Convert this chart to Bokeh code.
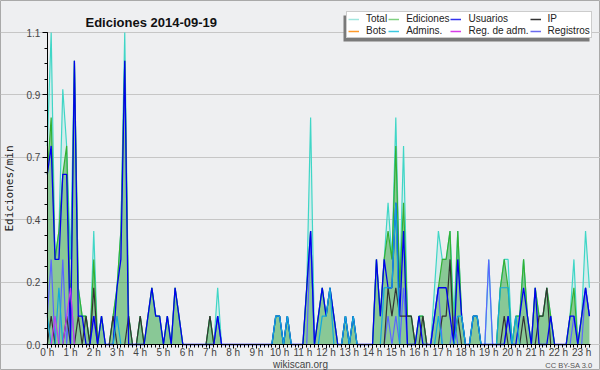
from bokeh.plotting import figure
from bokeh.models import (ColumnDataSource, FixedTicker, Legend, LegendItem, Label,
                          BoxAnnotation, Range1d)
from bokeh.embed import file_html
from bokeh.resources import INLINE

# ---------------- data: edits per 10-minute bin, 2014-09-19 ----------------
minutes = list(range(0, 1410, 10))          # bin start, minutes after 0 h

total_10 = [
    7, 11, 3, 4, 9, 7, 3, 10, 2, 1, 1, 0,
    4, 0, 1, 0, 0, 1, 2, 4, 11, 1, 0, 0,
    1, 0, 1, 2, 1, 1, 0, 1, 0, 2, 1, 0,
    0, 0, 0, 0, 0, 0, 1, 0, 2, 0, 0, 0,
    0, 0, 0, 0, 0, 0, 0, 0, 0, 0, 0, 1,
    1, 0, 1, 0, 0, 0, 0, 2, 8, 0, 1, 2,
    1, 2, 1, 0, 0, 1, 0, 1, 0, 0, 0, 0,
    0, 3, 1, 3, 5, 3, 8, 2, 7, 1, 1, 0,
    1, 1, 0, 0, 2, 4, 3, 3, 4, 1, 4, 1,
    0, 0, 1, 1, 0, 0, 3, 0, 0, 2, 3, 3,
    0, 1, 1, 3, 1, 0, 2, 1, 1, 2, 1, 0,
    0, 0, 0, 1, 3, 0, 1, 4, 2,
]
ediciones_10 = [
    6, 8, 3, 4, 6, 7, 1, 10, 2, 1, 1, 0,
    3, 0, 1, 0, 0, 1, 2, 4, 10, 1, 0, 0,
    1, 0, 1, 2, 1, 1, 0, 1, 0, 2, 1, 0,
    0, 0, 0, 0, 0, 0, 1, 0, 1, 0, 0, 0,
    0, 0, 0, 0, 0, 0, 0, 0, 0, 0, 0, 1,
    1, 0, 1, 0, 0, 0, 0, 2, 4, 0, 1, 2,
    1, 2, 1, 0, 0, 1, 0, 1, 0, 0, 0, 0,
    0, 3, 1, 3, 4, 3, 7, 2, 5, 1, 1, 0,
    1, 1, 0, 0, 1, 2, 3, 3, 4, 0, 4, 1,
    0, 0, 1, 1, 0, 0, 0, 0, 0, 2, 3, 2,
    0, 1, 1, 3, 1, 0, 2, 1, 1, 2, 1, 0,
    0, 0, 0, 1, 2, 0, 1, 2, 1,
]
usuarios_10 = [
    6, 7, 3, 3, 6, 6, 0, 10, 1, 1, 0, 0,
    1, 0, 1, 0, 0, 0, 2, 3, 10, 0, 0, 0,
    0, 0, 1, 2, 1, 1, 0, 1, 0, 2, 1, 0,
    0, 0, 0, 0, 0, 0, 0, 0, 1, 0, 0, 0,
    0, 0, 0, 0, 0, 0, 0, 0, 0, 0, 0, 1,
    1, 0, 1, 0, 0, 0, 0, 2, 4, 0, 1, 2,
    1, 2, 1, 0, 0, 1, 0, 1, 0, 0, 0, 0,
    0, 3, 1, 3, 2, 2, 5, 1, 4, 0, 0, 0,
    1, 0, 0, 0, 1, 2, 2, 2, 1, 0, 3, 1,
    0, 0, 1, 1, 0, 0, 0, 0, 0, 0, 0, 1,
    0, 0, 1, 2, 1, 0, 2, 0, 0, 0, 1, 0,
    0, 0, 0, 1, 1, 0, 1, 2, 1,
]
ip_10 = [
    0, 1, 0, 0, 0, 1, 0, 0, 1, 0, 1, 0,
    2, 0, 0, 0, 0, 1, 0, 0, 0, 1, 0, 0,
    1, 0, 0, 0, 0, 0, 0, 0, 0, 0, 0, 0,
    0, 0, 0, 0, 0, 0, 1, 0, 0, 0, 0, 0,
    0, 0, 0, 0, 0, 0, 0, 0, 0, 0, 0, 0,
    0, 0, 0, 0, 0, 0, 0, 0, 0, 0, 0, 0,
    0, 0, 0, 0, 0, 0, 0, 0, 0, 0, 0, 0,
    0, 0, 0, 0, 2, 1, 2, 1, 1, 1, 1, 0,
    0, 1, 0, 0, 0, 0, 1, 1, 3, 0, 1, 0,
    0, 0, 0, 0, 0, 0, 0, 0, 0, 0, 1, 0,
    0, 0, 0, 1, 0, 0, 0, 1, 1, 2, 0, 0,
    0, 0, 0, 0, 0, 0, 0, 0, 0,
]
admins_10 = [
    1, 0, 0, 2, 0, 0, 0, 0, 0, 0, 0, 0,
    0, 0, 0, 0, 0, 0, 1, 0, 0, 0, 0, 0,
    0, 0, 0, 0, 0, 0, 0, 0, 0, 0, 0, 0,
    0, 0, 0, 0, 0, 0, 0, 0, 0, 0, 0, 0,
    0, 0, 0, 0, 0, 0, 0, 0, 0, 0, 0, 1,
    1, 0, 1, 0, 0, 0, 0, 0, 0, 0, 0, 1,
    1, 2, 0, 0, 0, 1, 0, 1, 0, 0, 0, 0,
    0, 0, 0, 2, 2, 2, 5, 0, 0, 0, 0, 0,
    0, 0, 0, 0, 0, 1, 0, 0, 0, 0, 1, 1,
    0, 0, 1, 1, 0, 0, 0, 0, 0, 2, 2, 2,
    0, 1, 0, 0, 0, 0, 0, 0, 0, 0, 0, 0,
    0, 0, 0, 0, 0, 0, 0, 0, 0,
]
registros_10 = [
    1, 3, 0, 0, 3, 0, 2, 0, 0, 0, 0, 0,
    1, 0, 0, 0, 0, 0, 0, 0, 0, 0, 0, 0,
    0, 0, 0, 0, 0, 0, 0, 0, 0, 0, 0, 0,
    0, 0, 0, 0, 0, 0, 0, 0, 1, 0, 0, 0,
    0, 0, 0, 0, 0, 0, 0, 0, 0, 0, 0, 0,
    0, 0, 0, 0, 0, 0, 0, 0, 4, 0, 0, 0,
    0, 0, 0, 0, 0, 0, 0, 0, 0, 0, 0, 0,
    0, 0, 0, 0, 1, 0, 1, 0, 2, 0, 0, 0,
    0, 0, 0, 0, 1, 2, 0, 0, 0, 1, 0, 0,
    0, 0, 0, 0, 0, 0, 3, 0, 0, 0, 0, 1,
    0, 0, 0, 0, 0, 0, 0, 0, 0, 0, 0, 0,
    0, 0, 0, 0, 1, 0, 0, 2, 1,
]
regadm_10 = [
    0, 0, 1, 0, 0, 1, 2, 0, 0, 0, 0, 0,
    0, 0, 0, 0, 0, 0, 0, 0, 0, 0, 0, 0,
    0, 0, 0, 0, 0, 0, 0, 0, 0, 0, 0, 0,
    0, 0, 0, 0, 0, 0, 0, 0, 0, 0, 0, 0,
    0, 0, 0, 0, 0, 0, 0, 0, 0, 0, 0, 0,
    0, 0, 0, 0, 0, 0, 0, 0, 0, 0, 0, 0,
    0, 0, 0, 0, 0, 0, 0, 0, 0, 0, 0, 0,
    0, 0, 0, 0, 0, 0, 0, 0, 0, 0, 0, 0,
    0, 0, 0, 0, 0, 0, 0, 0, 0, 0, 0, 0,
    0, 0, 0, 0, 0, 0, 0, 0, 0, 0, 0, 0,
    0, 0, 0, 0, 0, 0, 0, 0, 0, 0, 0, 0,
    0, 0, 0, 0, 0, 0, 0, 0, 0,
]

hour_ticks = list(range(24))
hour_labels = [f"{h} h" for h in hour_ticks]
y_ticks = [0.0, 0.22, 0.44, 0.66, 0.88, 1.1]
y_labels = ["0.0", "0.2", "0.4", "0.7", "0.9", "1.1"]

legend_labels = ["Total", "Ediciones", "Usuarios", "IP",
                 "Bots", "Admins.", "Reg. de adm.", "Registros"]

X_END = 23.38      # last hour shown on the axis
Y_END = 1.1        # top of the value axis

# per-minute rates (a 10-minute bin / 10)
def per_min(a):
    return [v / 10 for v in a]

src = ColumnDataSource(dict(
    x=[m / 60 for m in minutes],
    total=per_min(total_10), ediciones=per_min(ediciones_10),
    usuarios=per_min(usuarios_10), ip=per_min(ip_10),
    admins=per_min(admins_10), registros=per_min(registros_10),
    regadm=per_min(regadm_10),
))

# ---------------- figure ----------------
# The frame covers the whole canvas; the axes sit at fixed locations so that
# the title, legend and credits (drawn in the frame) can lie outside the data area.
W, H = 600, 370
PX0, PX1 = 46.8, 590.0      # pixel column of x = 0 and x = X_END
PY0, PY1 = 344.0, 32.0      # pixel row of y = 0 and y = Y_END
sx = (PX1 - PX0) / X_END
sy = (PY0 - PY1) / Y_END
x_range = Range1d(-PX0 / sx, (W - PX0) / sx)
y_range = Range1d(-(H - PY0) / sy, Y_END + PY1 / sy)

p = figure(width=W, height=H, output_backend="svg", toolbar_location=None,
           x_range=x_range, y_range=y_range,
           min_border_left=0, min_border_right=0,
           min_border_top=0, min_border_bottom=0)
BG = "#eeeff1"
p.background_fill_color = BG
p.border_fill_color = BG
p.outline_line_color = "#a9a9a9"
p.outline_line_width = 1

# fills
p.varea(x="x", y1=0, y2="total", source=src, fill_color="#40e0d0", fill_alpha=0.15)
p.varea(x="x", y1=0, y2="ediciones", source=src, fill_color="#2e9e2e", fill_alpha=0.45)
# lines
p.line("x", "total", source=src, line_color="#3fd6c6", line_width=1.2)
p.line("x", "ediciones", source=src, line_color="#33b033", line_width=1.2)
p.line("x", "registros", source=src, line_color="#5a66ff", line_width=1.2)
p.line("x", "ip", source=src, line_color="#333333", line_width=1.2)
p.line("x", "usuarios", source=src, line_color="#0000ee", line_width=1.3)
p.line("x", "admins", source=src, line_color="#12a8dc", line_width=1.2)
p.line("x", "regadm", source=src, line_color="#c23ce8", line_width=1.2)

# axes
p.xaxis.fixed_location = 0
p.yaxis.fixed_location = 0
p.xaxis.bounds = (0, X_END)
p.yaxis.bounds = (0, Y_END)
p.xaxis.ticker = FixedTicker(ticks=hour_ticks, minor_ticks=[m / 60 for m in minutes])
p.xaxis.major_label_overrides = dict(zip(hour_ticks, hour_labels))
p.yaxis.ticker = FixedTicker(ticks=y_ticks, minor_ticks=[k * 0.055 for k in range(21)])
p.yaxis.major_label_overrides = dict(zip(y_ticks, y_labels))
p.xgrid.visible = False
p.ygrid.grid_line_color = "#c6c6c6"
p.ygrid.bounds = (0, X_END)
for ax in (p.xaxis[0], p.yaxis[0]):
    ax.axis_line_color = "black"
    ax.major_tick_line_color = "black"
    ax.minor_tick_line_color = "black"
    ax.major_tick_in = 0
    ax.minor_tick_in = 0
    ax.major_label_text_font = "Liberation Sans"
    ax.major_label_text_font_size = "10px"
    ax.major_label_text_color = "#444444"
p.xaxis.major_tick_out = 4
p.xaxis.minor_tick_out = 3
p.xaxis.major_label_standoff = -2
p.yaxis.major_tick_out = 5
p.yaxis.minor_tick_out = 3
p.yaxis.major_label_standoff = 2
p.yaxis.axis_label = "Ediciones/min"
p.yaxis.axis_label_text_font = "DejaVu Sans Mono"
p.yaxis.axis_label_text_font_size = "11px"
p.yaxis.axis_label_text_font_style = "normal"
p.yaxis.axis_label_text_color = "#222222"
p.yaxis.axis_label_standoff = 8

# legend: swatch-only renderers (a single NaN point, never drawn in the plot)
swatch_colors = ["#a0e6de", "#80d080", "#3333ee", "#333333",
                 "#ff9a2a", "#3cc8e0", "#d83ce8", "#6a6aee"]
nan = float("nan")
items = []
for lbl, col in zip(legend_labels, swatch_colors):
    r = p.line(x=[nan], y=[nan], line_color=col, line_width=1.5)
    items.append(LegendItem(label=lbl, renderers=[r]))

LEG_L, LEG_B, LEG_W, LEG_H = 346, 38, 246, 26
shadow = BoxAnnotation(left=LEG_L - 3, right=LEG_L - 3 + LEG_W,
                       bottom=H - (LEG_B + 3), top=H - (LEG_B + 3 - LEG_H),
                       left_units="screen", right_units="screen",
                       top_units="screen", bottom_units="screen",
                       fill_color="#7a7a7a", fill_alpha=1, line_color=None,
                       level="overlay")
p.add_layout(shadow)
legend = Legend(items=items, location=(LEG_L, H - LEG_B), orientation="horizontal", ncols=4,
                label_text_font="Liberation Sans", label_text_font_size="10px",
                label_text_color="#222222", label_text_line_height=0.85,
                glyph_width=11, glyph_height=8, label_height=8, label_standoff=7,
                spacing=1, padding=1, margin=0,
                border_line_color="#999999", border_line_width=1,
                background_fill_color="white", background_fill_alpha=1,
                level="overlay")
p.add_layout(legend)

p.add_layout(Label(x=85, y=H - 22, x_units="screen", y_units="screen",
                   text="Ediciones  2014-09-19", text_font="Liberation Sans",
                   text_font_style="bold", text_font_size="13px", text_color="#111111",
                   text_baseline="alphabetic", level="overlay"))
p.add_layout(Label(x=300, y=H - 364, x_units="screen", y_units="screen",
                   text="wikiscan.org", text_font="Liberation Sans",
                   text_font_size="10px", text_color="#444444", text_align="center",
                   text_baseline="alphabetic", level="overlay"))
p.add_layout(Label(x=592, y=H - 365, x_units="screen", y_units="screen",
                   text="CC BY-SA 3.0", text_font="Liberation Sans",
                   text_font_size="7.5px", text_color="#555555", text_align="right",
                   text_baseline="alphabetic", level="overlay"))

open("out.html", "w").write(file_html(p, INLINE))
